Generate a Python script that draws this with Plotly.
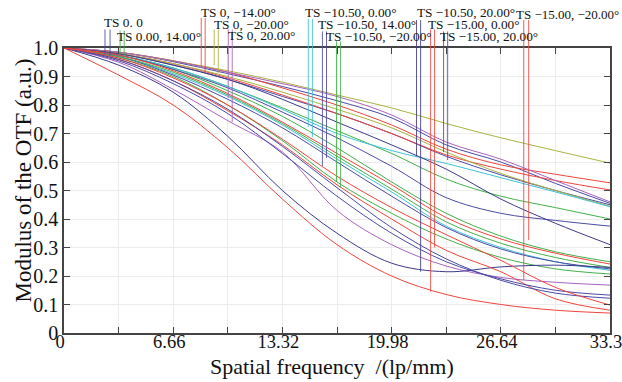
import plotly.graph_objects as go

# ---------------- data ----------------
freq = [0, 3.33, 6.66, 9.99, 13.32, 16.65, 19.98, 23.31, 26.64, 29.97, 33.3]

# TS 0. 0
f00_T = [1, .985, .952, .91, .865, .815, .755, .66, .60, .525, .455]
f00_S = [1, .98, .94, .89, .83, .77, .70, .62, .555, .50, .45]
# TS 0.00, 14.00
f0_14_T = [1, .975, .93, .865, .79, .71, .63, .54, .48, .44, .40]
f0_14_S = [1, .975, .925, .85, .76, .65, .53, .42, .34, .285, .25]
# TS 0, -14.00
f0_m14_T = [1, .985, .955, .915, .86, .80, .73, .645, .59, .557, .527]
f0_m14_S = [1, .98, .945, .895, .835, .77, .70, .625, .575, .535, .502]
# TS 0, -20.00
f0_m20_T = [1, .985, .955, .92, .88, .835, .79, .735, .685, .64, .596]
f0_m20_S = [1, .98, .945, .90, .845, .785, .72, .635, .56, .50, .445]
# TS 0, 20.00
f0_20_T = [1, .985, .955, .915, .875, .83, .765, .67, .61, .535, .46]
f0_20_S = [1, .95, .855, .745, .635, .43, .31, .235, .195, .178, .168]
# TS -10.50, 0.00
f105_0_T = [1, .975, .93, .865, .785, .70, .64, .595, .545, .495, .443]
f105_0_S = [1, .97, .91, .83, .73, .61, .495, .375, .30, .25, .22]
# TS -10.50, 14.00
f105_14_T = [1, .975, .925, .86, .775, .685, .585, .475, .42, .395, .375]
f105_14_S = [1, .97, .905, .82, .72, .60, .48, .37, .295, .25, .225]
# TS -10.50, -20.00
f105_m20_T = [1, .97, .915, .835, .735, .62, .505, .39, .315, .265, .23]
f105_m20_S = [1, .965, .90, .80, .675, .53, .42, .33, .265, .225, .207]
# TS -10.50, 20.00
f105_20_T = [1, .94, .845, .69, .50, .35, .245, .215, .232, .238, .23]
f105_20_S = [1, .98, .94, .89, .82, .74, .66, .575, .47, .385, .31]
# TS -15.00, 0.00
f15_0_T = [1, .905, .80, .65, .47, .31, .20, .135, .10, .08, .07]
f15_0_S = [1, .96, .885, .78, .66, .52, .40, .29, .215, .12, .08]
# TS -15.00, 20.00
f15_20_T = [1, .955, .875, .77, .63, .48, .35, .25, .19, .15, .133]
f15_20_S = [1, .96, .885, .785, .655, .51, .37, .26, .185, .14, .122]
# TS -15.00, -20.00
f15_m20_T = [1, .975, .92, .84, .74, .63, .52, .405, .33, .28, .242]
f15_m20_S = [1, .965, .895, .80, .68, .55, .44, .345, .255, .16, .098]

labels = ["TS 0. 0", "TS 0.00, 14.00°", "TS 0, −14.00°", "TS 0, −20.00°",
          "TS 0, 20.00°", "TS −10.50, 0.00°", "TS −10.50, 14.00°",
          "TS −10.50, −20.00°", "TS −10.50, 20.00°", "TS −15.00, 0.00°",
          "TS −15.00, 20.00°", "TS −15.00, −20.00°"]
series_T = [f00_T, f0_14_T, f0_m14_T, f0_m20_T, f0_20_T, f105_0_T,
            f105_14_T, f105_m20_T, f105_20_T, f15_0_T, f15_20_T, f15_m20_T]
series_S = [f00_S, f0_14_S, f0_m14_S, f0_m20_S, f0_20_S, f105_0_S,
            f105_14_S, f105_m20_S, f105_20_S, f15_0_S, f15_20_S, f15_m20_S]

# label leader lines: x (lp/mm) and the MTF value where each line ends
leader_x_T = [2.50, 3.42, 8.37, 9.16, 10.02, 14.90, 15.76, 16.62, 21.50, 22.36, 23.15, 28.04]
leader_x_S = [2.81, 3.67, 8.61, 9.41, 10.26, 15.15, 16.01, 16.86, 21.75, 22.60, 23.40, 28.34]
leader_end_T = [0.977, 0.980, 0.937, 0.940, 0.825, 0.723, 0.586, 0.530, 0.620, 0.145, 0.635, 0.186]
leader_end_S = [0.972, 0.975, 0.912, 0.912, 0.740, 0.688, 0.614, 0.510, 0.215, 0.300, 0.607, 0.326]

x_ticks = [0, 3.33, 6.66, 9.99, 13.32, 16.65, 19.98, 23.31, 26.64, 29.97, 33.3]
x_ticktext = ["0", "", "6.66", "", "13.32", "", "19.98", "", "26.64", "", "33.3"]
y_ticks = [0, 0.1, 0.2, 0.3, 0.4, 0.5, 0.6, 0.7, 0.8, 0.9, 1.0]
y_ticktext = ["0", "0.1", "0.2", "0.3", "0.4", "0.5", "0.6", "0.7", "0.8", "0.9", "1.0"]

# ---------------- styles / layout ----------------
BLUE = "#4b4ba6"
INDIGO = "#3d3a8c"
GREEN = "#44b04a"
RED = "#f0453c"
OLIVE = "#a9b33f"
PURPLE = "#aa62bf"
CYAN = "#3cc3d6"
colors = [BLUE, GREEN, RED, OLIVE, PURPLE, CYAN, BLUE, GREEN, INDIGO, RED, BLUE, RED]

# label text placement (left edge in lp/mm, vertical position in paper units)
label_text_x = [2.32, 3.12, 8.25, 9.04, 9.90, 14.60, 15.39, 15.88, 21.38, 22.05, 22.79, 27.45]
label_text_y = [1.090, 1.042, 1.126, 1.084, 1.045, 1.126, 1.084, 1.042, 1.126, 1.084, 1.042, 1.118]
leader_top = [1.065, 1.061, 1.105, 1.065, 1.065, 1.102, 1.058, 1.023, 1.098, 1.065, 1.058, 1.098]
label_size = [13.3] * 11 + [13.0]

FONT = "Liberation Serif"

fig = go.Figure()
for i in range(len(labels)):
    for ys in (series_T[i], series_S[i]):
        fig.add_trace(go.Scatter(
            x=freq, y=ys, mode="lines",
            line=dict(color=colors[i], width=1, shape="spline", smoothing=1.0),
            showlegend=False, hoverinfo="skip"))

shapes = []
annotations = []
for i in range(len(labels)):
    for lx, le in ((leader_x_T[i], leader_end_T[i]), (leader_x_S[i], leader_end_S[i])):
        shapes.append(dict(type="line", xref="x", yref="paper",
                           x0=lx, x1=lx, y0=le, y1=leader_top[i],
                           line=dict(color=colors[i], width=1), opacity=0.85))
    annotations.append(dict(text=labels[i], xref="x", yref="paper",
                            x=label_text_x[i], y=label_text_y[i],
                            xanchor="left", yanchor="middle", showarrow=False,
                            font=dict(family=FONT, size=label_size[i], color="#111")))

annotations.append(dict(text="Modulus of the OTF (a.u.)", xref="paper", yref="paper",
                        x=0, y=0.535, xshift=-40, textangle=-90, showarrow=False,
                        xanchor="center", yanchor="middle",
                        font=dict(family=FONT, size=23, color="#111")))
annotations.append(dict(text="Spatial frequency  /(lp/mm)", xref="paper", yref="paper",
                        x=0.49, y=-0.118, showarrow=False,
                        xanchor="center", yanchor="middle",
                        font=dict(family=FONT, size=22, color="#111")))

axis_common = dict(showline=True, linecolor="#444", linewidth=1.5, mirror="ticks",
                   ticks="inside", ticklen=6, tickcolor="#444", tickwidth=1,
                   showgrid=True, gridcolor="#ececec", gridwidth=1, zeroline=False)

fig.update_layout(
    width=622, height=382,
    margin=dict(l=64, r=12, t=48, b=49, autoexpand=False),
    paper_bgcolor="white", plot_bgcolor="white",
    xaxis=dict(range=[0, 33.3], tickmode="array", tickvals=x_ticks, ticktext=x_ticktext,
               ticklabelstandoff=-9, ticklabelshift=-4, ticklabeloverflow="allow",
               tickfont=dict(family=FONT, size=18.5, color="#111"), **axis_common),
    yaxis=dict(range=[0, 1], tickmode="array", tickvals=y_ticks, ticktext=y_ticktext,
               tickfont=dict(family=FONT, size=20, color="#111"), **axis_common),
    shapes=shapes, annotations=annotations,
)

fig.write_html("out.html", config={"displayModeBar": False},
               post_script="document.body.style.margin='0';document.body.style.overflow='hidden';")
